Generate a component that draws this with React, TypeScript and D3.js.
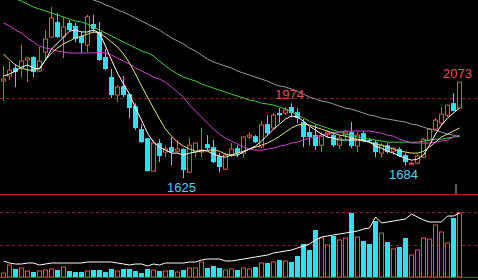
import React from 'react';
import * as d3 from 'd3';

const W = 478;
const H = 280;

// OHLC per trading day
const opens = [2078, 2101, 2139, 2139, 2176, 2190, 2125, 2213, 2283, 2353, 2283, 2349, 2335, 2288, 2246, 2344, 2307, 2190, 2097, 2013, 2055, 2017, 1961, 1854, 1812, 1658, 1789, 1747, 1770, 1751, 1761, 1653, 1747, 1747, 1784, 1770, 1728, 1667, 1733, 1765, 1742, 1817, 1821, 1770, 1877, 1859, 1929, 1929, 1957, 1933, 1887, 1840, 1826, 1779, 1831, 1826, 1779, 1826, 1840, 1775, 1835, 1803, 1793, 1742, 1779, 1751, 1761, 1733, 1691, 1695, 1723, 1803, 1854, 1882, 1919, 1975, 1952];
const closes = [2087, 2129, 2120, 2171, 2185, 2120, 2171, 2274, 2372, 2283, 2330, 2316, 2274, 2255, 2377, 2321, 2176, 2134, 2013, 2050, 2013, 1952, 1859, 1793, 1658, 1789, 1728, 1761, 1747, 1761, 1663, 1779, 1789, 1756, 1765, 1700, 1677, 1733, 1761, 1742, 1817, 1826, 1793, 1873, 1835, 1919, 1919, 1943, 1929, 1905, 1817, 1817, 1775, 1821, 1840, 1779, 1812, 1840, 1775, 1826, 1798, 1798, 1747, 1779, 1747, 1765, 1728, 1700, 1695, 1728, 1807, 1854, 1896, 1924, 1966, 1938, 2073];
const highs = [2148, 2167, 2157, 2246, 2190, 2195, 2237, 2316, 2423, 2395, 2377, 2363, 2349, 2307, 2386, 2386, 2353, 2227, 2134, 2059, 2101, 2022, 1975, 1877, 1812, 1803, 1807, 1775, 1817, 1803, 1765, 1812, 1793, 1859, 1826, 1803, 1742, 1742, 1789, 1779, 1821, 1840, 1826, 1891, 1919, 1929, 1952, 1957, 1974, 1952, 1901, 1863, 1873, 1840, 1849, 1840, 1826, 1849, 1887, 1840, 1845, 1812, 1803, 1789, 1789, 1770, 1770, 1742, 1700, 1737, 1812, 1859, 1905, 1957, 1966, 2022, 2073];
const lows = [1985, 2083, 2050, 2097, 2073, 2097, 2120, 2176, 2279, 2279, 2185, 2311, 2260, 2209, 2213, 2302, 2171, 2129, 1999, 1980, 2003, 1905, 1849, 1789, 1658, 1658, 1700, 1723, 1686, 1742, 1625, 1653, 1723, 1723, 1756, 1695, 1653, 1663, 1723, 1723, 1719, 1807, 1789, 1765, 1826, 1854, 1882, 1919, 1910, 1882, 1770, 1779, 1756, 1747, 1812, 1770, 1761, 1803, 1765, 1747, 1793, 1789, 1723, 1719, 1742, 1733, 1723, 1684, 1686, 1691, 1719, 1803, 1849, 1873, 1910, 1938, 1952];

// moving averages
const ma5 = [2101, 2111, 2125, 2143, 2153, 2139, 2134, 2176, 2227, 2255, 2283, 2311, 2316, 2307, 2307, 2316, 2302, 2241, 2176, 2115, 2064, 2017, 1952, 1896, 1835, 1793, 1770, 1756, 1742, 1742, 1733, 1742, 1747, 1756, 1751, 1737, 1728, 1723, 1733, 1733, 1747, 1761, 1775, 1798, 1826, 1854, 1877, 1901, 1915, 1910, 1891, 1868, 1849, 1831, 1817, 1812, 1803, 1803, 1803, 1803, 1803, 1793, 1775, 1765, 1751, 1742, 1728, 1719, 1709, 1714, 1733, 1779, 1831, 1873, 1905, 1929, 1952];
const ma10 = [2204, 2176, 2153, 2139, 2129, 2129, 2139, 2176, 2209, 2232, 2251, 2265, 2279, 2288, 2297, 2307, 2302, 2283, 2260, 2237, 2204, 2162, 2111, 2055, 2003, 1952, 1901, 1854, 1821, 1793, 1775, 1761, 1751, 1751, 1756, 1756, 1751, 1737, 1733, 1742, 1751, 1761, 1770, 1779, 1789, 1803, 1821, 1840, 1859, 1873, 1877, 1873, 1863, 1854, 1845, 1835, 1826, 1821, 1812, 1807, 1798, 1793, 1784, 1779, 1770, 1761, 1751, 1747, 1742, 1742, 1751, 1770, 1793, 1817, 1831, 1845, 1859];
const ma20 = [2349, 2335, 2316, 2302, 2279, 2260, 2241, 2232, 2227, 2218, 2213, 2209, 2209, 2209, 2209, 2209, 2213, 2209, 2199, 2185, 2171, 2157, 2139, 2125, 2111, 2097, 2087, 2073, 2050, 2027, 2003, 1966, 1938, 1910, 1882, 1854, 1831, 1812, 1798, 1784, 1770, 1761, 1756, 1756, 1761, 1765, 1775, 1779, 1789, 1793, 1803, 1812, 1817, 1826, 1831, 1835, 1840, 1845, 1845, 1845, 1845, 1845, 1840, 1835, 1826, 1821, 1807, 1798, 1789, 1789, 1789, 1789, 1793, 1798, 1803, 1817, 1826];
const ma30 = [2479, 2470, 2461, 2451, 2437, 2423, 2414, 2405, 2395, 2386, 2377, 2367, 2358, 2353, 2344, 2330, 2316, 2302, 2288, 2274, 2260, 2246, 2232, 2218, 2209, 2195, 2171, 2148, 2129, 2111, 2097, 2087, 2078, 2064, 2055, 2045, 2036, 2027, 2017, 2008, 1999, 1989, 1985, 1975, 1971, 1966, 1957, 1947, 1933, 1919, 1905, 1891, 1877, 1868, 1859, 1849, 1840, 1831, 1826, 1817, 1812, 1807, 1803, 1798, 1793, 1793, 1793, 1793, 1793, 1793, 1798, 1803, 1807, 1807, 1812, 1817, 1821];
const ma60: (number | null)[] = [null, null, null, null, null, null, null, null, null, null, null, null, null, 2479, 2470, 2456, 2447, 2433, 2423, 2409, 2400, 2386, 2372, 2358, 2344, 2330, 2316, 2297, 2279, 2265, 2251, 2232, 2218, 2199, 2181, 2167, 2157, 2148, 2139, 2125, 2115, 2106, 2097, 2087, 2078, 2064, 2055, 2050, 2041, 2031, 2017, 2003, 1994, 1985, 1980, 1971, 1961, 1952, 1947, 1938, 1929, 1919, 1915, 1905, 1901, 1896, 1891, 1887, 1877, 1873, 1863, 1854, 1849, 1840, 1831, 1826, 1817];

// volume and its average line
const volumes = [4, 12, 8, 9, 6, 5, 6, 7, 8, 7, 10, 6, 5, 5, 6, 7, 7, 5, 8, 6, 8, 8, 6, 4, 8, 7, 6, 6, 7, 5, 7, 9, 9, 15, 9, 11, 9, 7, 8, 7, 9, 8, 10, 14, 14, 15, 17, 16, 15, 21, 33, 27, 47, 39, 32, 41, 37, 39, 64, 40, 36, 33, 56, 44, 35, 28, 30, 39, 22, 27, 39, 38, 52, 45, 34, 59, 64];
const volMA = [16, 14, 13, 13, 14, 14, 12, 13, 14, 14, 14, 14, 14, 14, 15, 15, 15, 15, 15, 14, 13, 12, 13, 13, 11, 13, 12, 14, 14, 14, 14, 15, 15, 17, 18, 18, 18, 16, 16, 17, 18, 19, 20, 21, 22, 24, 25, 26, 27, 29, 31, 33, 37, 40, 41, 42, 43, 44, 45, 46, 48, 49, 60, 54, 55, 56, 57, 58, 63, 60, 57, 55, 55, 55, 61, 61, 64];

const priceGrid = [2000];
const volGrid = [32, 65];
const markIdx = [30, 48, 67, 76];
const markKind = ['low', 'high', 'low', 'high'];

const RED = '#e45050';
const CYAN = '#2ee2ea';
const LABEL_CYAN = '#4fd3ec';
const FRAME = '#a82a2a';
const DASH = '#8c2424';

export default function App() {
  const n = opens.length;
  const x = d3.scaleLinear().domain([0, n - 1]).range([3.5, 3.5 + 6 * (n - 1)]);
  const y = d3.scaleLinear().domain([1556, 2456]).range([193, 0]);
  const yv = d3.scaleLinear().domain([0, 82]).range([277, 195]);

  const lineP = d3
    .line<number | null>()
    .defined((d) => d != null)
    .x((_, i) => x(i))
    .y((d) => y(d as number));
  const lineV = d3
    .line<number>()
    .x((_, i) => x(i))
    .y((d) => yv(d));

  const maDefs: [(number | null)[], string][] = [
    [ma60, '#9a9a9a'],
    [ma30, '#3fcf3f'],
    [ma20, '#d23ed2'],
    [ma10, '#e8e27a'],
    [ma5, '#ffffff'],
  ];

  return (
    <svg width={W} height={H} style={{ position: 'absolute', left: 0, top: 0, display: 'block' }}>
      <defs>
        <clipPath id="mainClip">
          <rect x={0} y={0} width={W} height={193} />
        </clipPath>
      </defs>
      <rect x={0} y={0} width={W} height={H} fill="#000" />

      {priceGrid.map((g) => (
        <line key={g} x1={0} x2={W} y1={Math.round(y(g)) + 0.5} y2={Math.round(y(g)) + 0.5} stroke={DASH} strokeDasharray="3,3" />
      ))}
      {volGrid.map((g) => (
        <line key={g} x1={0} x2={W} y1={Math.round(yv(g)) + 0.5} y2={Math.round(yv(g)) + 0.5} stroke={DASH} strokeDasharray="3,3" />
      ))}

      <g clipPath="url(#mainClip)">
        {opens.map((o, i) => {
          const c = closes[i];
          const up = c >= o;
          const cx = x(i);
          const top = y(Math.max(o, c));
          const bot = y(Math.min(o, c));
          const h = Math.max(1, bot - top);
          return (
            <g key={i}>
              <line x1={cx} x2={cx} y1={y(highs[i])} y2={y(lows[i])} stroke={up ? RED : CYAN} strokeWidth={1} />
              {up ? (
                <rect x={cx - 2} y={top} width={4} height={h} fill="#000" stroke={RED} strokeWidth={1} />
              ) : (
                <rect x={cx - 2.5} y={top} width={5} height={h} fill={CYAN} />
              )}
            </g>
          );
        })}
        {maDefs.map(([data, col], k) => (
          <path key={k} d={lineP(data) || ''} fill="none" stroke={col} strokeWidth={1} />
        ))}
      </g>

      {markIdx.map((idx, k) => {
        const hi = markKind[k] === 'high';
        const v = hi ? highs[idx] : lows[idx];
        return (
          <text
            key={k}
            x={x(idx) - 2}
            y={hi ? y(v) - 4 : y(v) + 13.5}
            textAnchor="middle"
            fontFamily="'Liberation Sans', Arial, sans-serif"
            fontSize={13}
            fill={hi ? RED : LABEL_CYAN}
          >
            {v}
          </text>
        );
      })}

      <line x1={0} x2={W} y1={194.5} y2={194.5} stroke={FRAME} />
      <line x1={x(n - 1) - 3.5} x2={x(n - 1) - 3.5} y1={184} y2={194} stroke="#b8b8b8" />

      {volumes.map((v, i) => {
        const up = closes[i] >= opens[i];
        const cx = x(i);
        const top = yv(v);
        const h = yv(0) - top;
        return up ? (
          <rect key={i} x={cx - 2} y={top} width={4} height={h} fill="#000" stroke={RED} strokeWidth={1} />
        ) : (
          <rect key={i} x={cx - 2.5} y={top} width={5} height={h} fill={CYAN} />
        );
      })}
      <path d={lineV(volMA) || ''} fill="none" stroke="#ffffff" strokeWidth={1} />

      <line x1={0} x2={W} y1={277.5} y2={277.5} stroke={FRAME} />
    </svg>
  );
}
